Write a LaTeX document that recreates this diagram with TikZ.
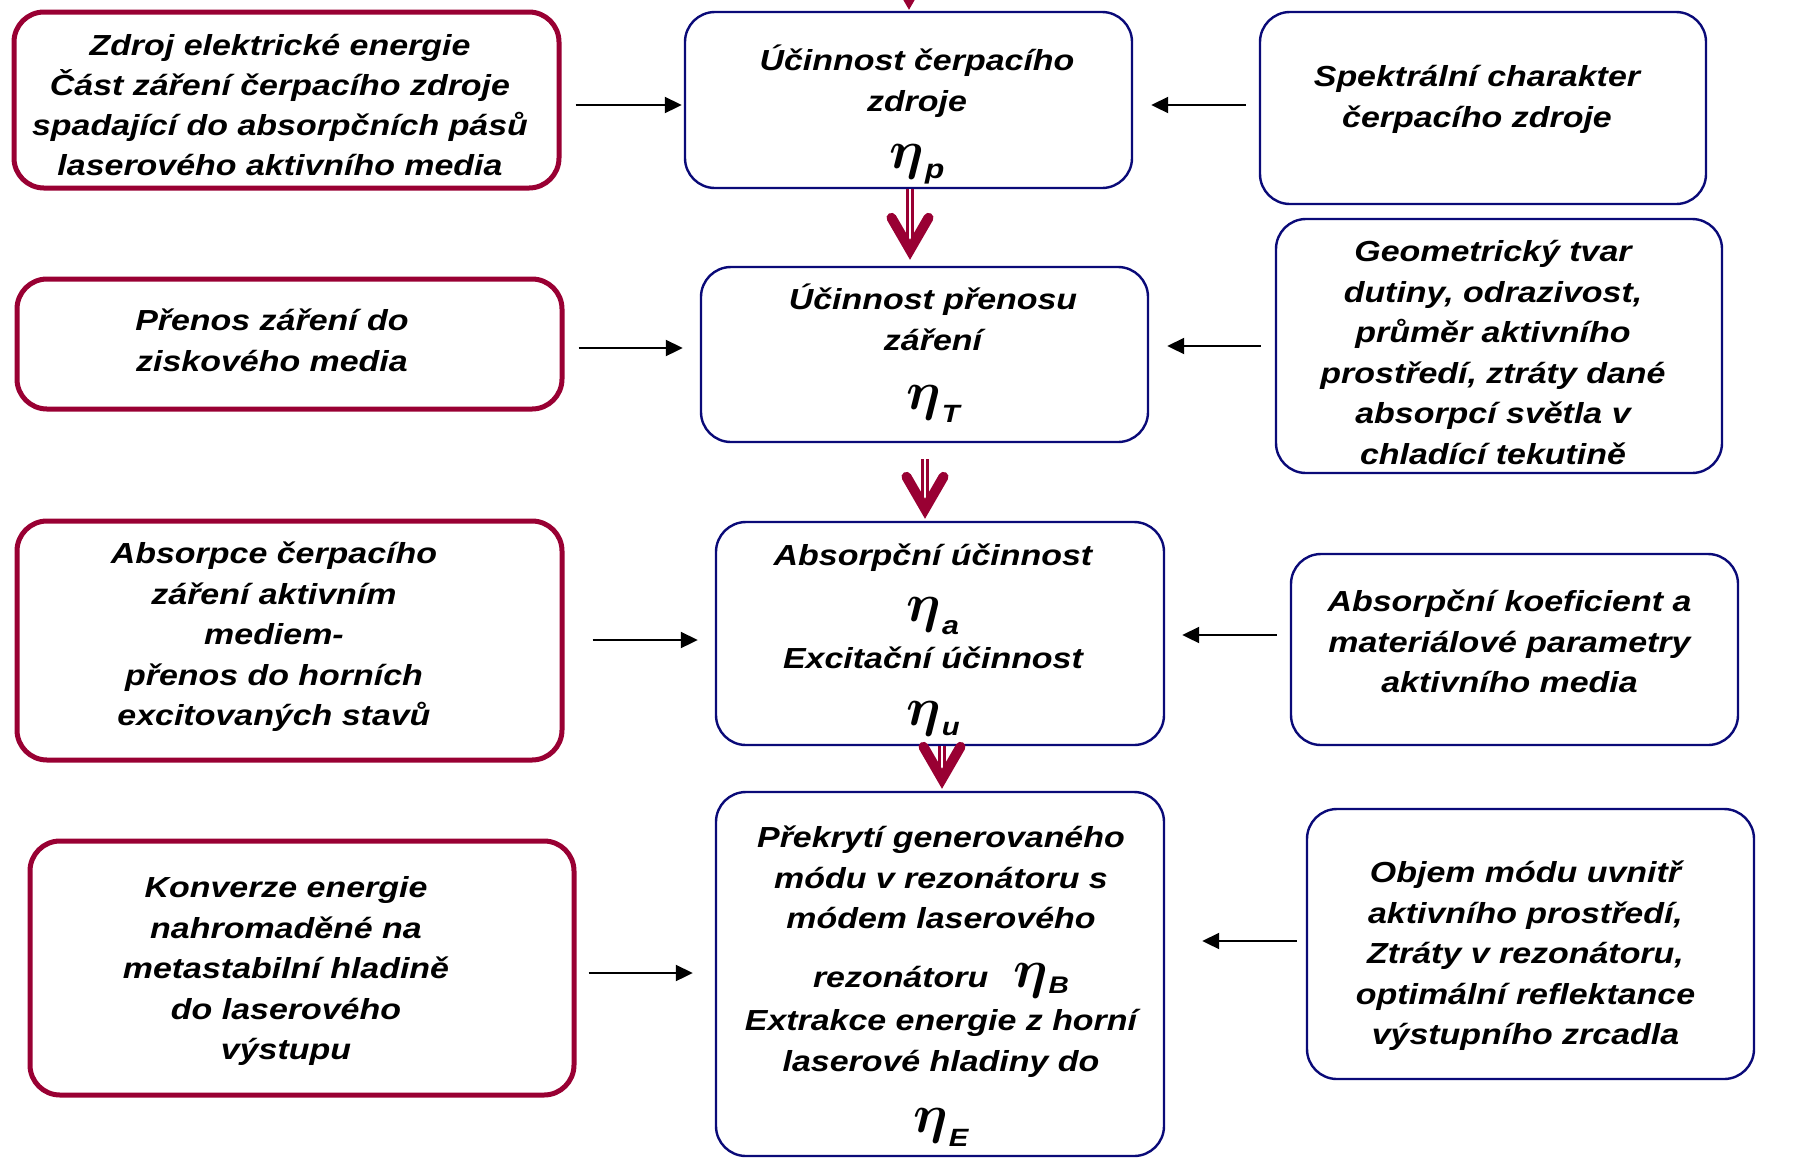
\documentclass[tikz,border=0pt]{standalone}
\usepackage{fix-cm}
\usepackage{fontspec}
\newfontfamily\arialf{Liberation Sans}[FakeStretch=1.17]
\usetikzlibrary{arrows.meta,calc}
\definecolor{boxred}{RGB}{153,0,51}
\definecolor{boxnavy}{RGB}{10,10,120}
\newcommand\tstrut{\rule{0pt}{14pt}}
\newcommand\etas[3]{{\fontsize{27pt}{27pt}\selectfont\boldmath$\eta$}\kern0.5pt\raisebox{-#2}{\fontsize{#3}{#3}\selectfont #1}}
\newcommand\vhead[1]{\draw[vhd] ($(#1)+(-18.5,-42)$) -- ($(#1)+(0,-10)$) -- ($(#1)+(18.5,-42)$);}
\tikzset{
  redbox/.style={draw=boxred, line width=2.5pt, rounded corners=15pt, inner sep=0pt},
  navbox/.style={draw=boxnavy, line width=1.2pt, rounded corners=15pt, inner sep=0pt},
  txt/.style={inner sep=0pt, anchor=north, align=center,
    font=\arialf\bfseries\itshape\fontsize{14.5pt}{20.3pt}\selectfont},
  arr/.style={-{Triangle[length=8.5pt,width=8pt]}, line width=1pt, draw=black},
  stem/.style={draw=boxred, double=white, line width=1.75pt, double distance=0.9pt},
  vhd/.style={draw=boxred, line width=5pt, line cap=round, line join=miter},
}
\begin{document}
\begin{tikzpicture}[x=0.5pt, y=-0.5pt]
\useasboundingbox (0,0) rectangle (1806,1164);
\clip (0,0) rectangle (1806,1164);
\fill[white] (0,0) rectangle (1806,1164);

% left boxes
\node[redbox, minimum width=272.5pt, minimum height=88pt] (l1) at (286.5,100) {};
\node[redbox, minimum width=272.5pt, minimum height=65pt] (l2) at (289.5,344) {};
\node[redbox, minimum width=272.5pt, minimum height=119.5pt] (l3) at (289.5,640.5) {};
\node[redbox, minimum width=272pt, minimum height=127pt] (l4) at (302,968) {};
% centre boxes
\node[navbox, minimum width=223.5pt, minimum height=88pt] (c1) at (908.5,100) {};
\node[navbox, minimum width=223.5pt, minimum height=87.5pt] (c2) at (924.5,354.5) {};
\node[navbox, minimum width=224pt, minimum height=111.5pt] (c3) at (940,633.5) {};
\node[navbox, minimum width=224pt, minimum height=182pt] (c4) at (940,974) {};
% right boxes
\node[navbox, minimum width=223pt, minimum height=96pt] (r1) at (1483,108) {};
\node[navbox, minimum width=223pt, minimum height=127pt] (r2) at (1499,346) {};
\node[navbox, minimum width=223.5pt, minimum height=95.5pt] (r3) at (1514.5,649.5) {};
\node[navbox, minimum width=223.5pt, minimum height=135pt] (r4) at (1530.5,944) {};

% texts
\node[txt, font=\arialf\bfseries\itshape\fontsize{14.5pt}{20pt}\selectfont] (l1t) at (280,27) {\tstrut Zdroj elektrické energie\\Část záření čerpacího zdroje\\spadající do absorpčních pásů\\laserového aktivního media};
\node[txt] (l2t) at (272,302) {\tstrut Přenos záření do\\ziskového media};
\node[txt] (l3t) at (274,535) {\tstrut Absorpce čerpacího\\záření aktivním\\mediem-\\přenos do horních\\excitovaných stavů};
\node[txt] (l4t) at (286,869) {\tstrut Konverze energie\\nahromaděné na\\metastabilní hladině\\do laserového\\výstupu};

\node[txt] (c1t) at (917,42) {\tstrut Účinnost čerpacího\\zdroje\\[8.5pt]\etas{p}{5pt}{13.5pt}};
\node[txt] (c2t) at (933,281) {\tstrut Účinnost přenosu\\záření\\[9.5pt]\etas{T}{6.5pt}{12.5pt}};
\node[txt] (c3t) at (933,537) {\tstrut Absorpční účinnost\\[7.5pt]\etas{a}{6.5pt}{13pt}\\[3.5pt]Excitační účinnost\\[8pt]\etas{u}{5pt}{12.5pt}};
\node[txt] (c4t) at (941,819) {\tstrut Překrytí generovaného\\módu v rezonátoru s\\módem laserového\\[9pt]rezonátoru\hspace{12.5pt}\etas{B}{3pt}{12pt}\\[1.5pt]Extrakce energie z horní\\laserové hladiny do\\[10pt]\etas{E}{7pt}{12.5pt}};

\node[txt] (r1t) at (1477,58) {\tstrut Spektrální charakter\\čerpacího zdroje};
\node[txt] (r2t) at (1493,233) {\tstrut Geometrický tvar\\dutiny, odrazivost,\\průměr aktivního\\prostředí, ztráty dané\\absorpcí světla v\\chladící tekutině};
\node[txt] (r3t) at (1509.5,583) {\tstrut Absorpční koeficient a\\materiálové parametry\\aktivního media};
\node[txt] (r4t) at (1525.5,854) {\tstrut Objem módu uvnitř\\aktivního prostředí,\\Ztráty v rezonátoru,\\optimální reflektance\\výstupního zrcadla};

% black arrows, left -> centre
\draw[arr, shorten <=7pt, shorten >=1pt] (l1.east |- 0,105) -- (c1.west |- 0,105);
\draw[arr, shorten <=7pt, shorten >=8.5pt] (l2.east |- 0,348) -- (c2.west |- 0,348);
\draw[arr, shorten <=14pt, shorten >=8.5pt] (l3.east |- 0,640) -- (c3.west |- 0,640);
\draw[arr, shorten <=6pt, shorten >=11pt] (l4.east |- 0,973) -- (c4.west |- 0,973);
% black arrows, right -> centre
\draw[arr, shorten <=6.5pt, shorten >=9pt] (r1.west |- 0,105) -- (c1.east |- 0,105);
\draw[arr, shorten <=7pt, shorten >=9pt] (r2.west |- 0,346) -- (c2.east |- 0,346);
\draw[arr, shorten <=6.5pt, shorten >=8.5pt] (r3.west |- 0,635) -- (c3.east |- 0,635);
\draw[arr, shorten <=4.5pt, shorten >=18.5pt] (r4.west |- 0,941) -- (c4.east |- 0,941);

% red double arrows
\coordinate (src0) at (909,-80);
\coordinate (t01) at ($(c1.north -| 909,0)+(0,-1)$);
\draw[stem, shorten >=5pt] (src0) -- (t01);
\vhead{t01}

\coordinate (t12) at ($(c2.north -| 910,0)+(0,-6)$);
\draw[stem, shorten >=5pt] (c1.south -| 910,0) -- (t12);
\vhead{t12}

\coordinate (t23) at ($(c3.north -| 925,0)+(0,-2)$);
\draw[stem, shorten <=8pt, shorten >=5pt] (c2.south -| 925,0) -- (t23);
\vhead{t23}

\coordinate (t34) at ($(c4.north -| 942,0)+(0,-2)$);
\draw[stem, shorten >=5pt] (c3.south -| 942,0) -- (t34);
\vhead{t34}
\end{tikzpicture}
\end{document}
